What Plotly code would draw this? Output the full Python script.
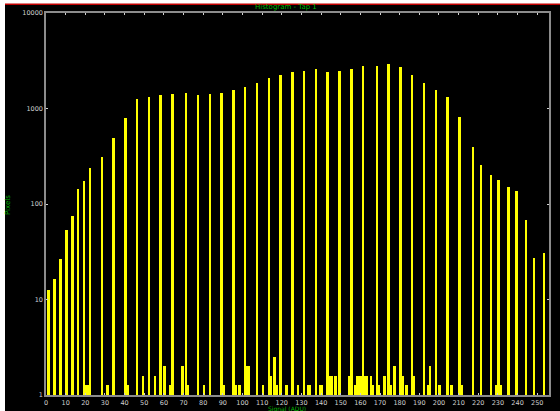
import plotly.graph_objects as go

# Histogram data (bin index 0..255, pixel counts)
tall_bins = [1, 4, 7, 10, 13, 16, 19, 22, 28, 34, 40, 46, 52, 58, 64, 71, 77, 83, 89, 95,
             101, 107, 113, 119, 125, 131, 137, 143, 149, 155, 161, 168, 174, 180, 186, 192,
             198, 204, 210, 217, 221, 226, 230, 235, 239, 244, 248, 253]
tall_counts = [12.7, 16.3, 26.8, 53.8, 74, 142, 175, 237, 313, 487, 795, 1255, 1327, 1393,
               1416, 1460, 1393, 1416, 1460, 1560, 1675, 1871, 2110, 2250, 2419, 2460, 2582,
               2419, 2479, 2582, 2775, 2795, 2912, 2729, 2250, 1871, 1560, 1318, 807, 396,
               257, 202, 177, 152, 137, 68, 27.4, 30.4]

small_bins = [20, 21, 31, 41, 49, 55, 60, 63, 69, 72, 80, 90, 96, 98, 102, 103, 110, 114, 116,
              117, 122, 128, 133, 134, 139, 140, 144, 145, 147, 154, 157, 158, 159, 160, 162,
              163, 165, 166, 169, 172, 175, 177, 181, 183, 187, 194, 195, 200, 206, 211, 229, 231]
small_counts = [1.27, 1.27, 1.27, 1.27, 1.59, 1.59, 2.0, 1.27, 2.0, 1.27, 1.27, 1.27, 1.27, 1.27,
                2.0, 2.0, 1.27, 1.59, 2.5, 1.27, 1.27, 1.27, 1.27, 1.27, 1.27, 1.27, 1.59, 1.59,
                1.59, 1.59, 1.27, 1.59, 1.59, 1.59, 1.59, 1.59, 1.59, 1.27, 1.27, 1.59, 1.27,
                2.0, 1.59, 1.27, 1.59, 1.27, 2.0, 1.27, 1.27, 1.27, 1.27, 1.27]

x_tick_vals = list(range(0, 251, 10))
x_tick_text = [str(v) for v in x_tick_vals]
y_tick_vals = [1, 10, 100, 1000, 10000]
y_tick_text = ["1", "10", "100", "1000", "10000"]

title_text = "Histogram - Tap 1"
x_title = "Signal (ADU)"
y_title = "Pixels"

bins = tall_bins + small_bins
counts = tall_counts + small_counts

GREEN = "#00b400"
TICK = "#d0d0d0"
AXIS = "#8c8c8c"
FONT = "DejaVu Sans"

fig = go.Figure()
fig.add_trace(go.Bar(
    x=[b + 0.5 for b in bins], y=counts, width=1.0,
    marker=dict(color="#ffff00", line=dict(width=0)),
    showlegend=False,
))

W, H = 560, 411
L, R, T, B = 46, 11, 13, 16
pw, ph = W - L - R, H - T - B


def px(X):
    return (X - L) / pw


def py(Y):
    return (H - B - Y) / ph


fig.update_layout(
    width=W, height=H, autosize=False,
    margin=dict(l=L, r=R, t=T, b=B, pad=0, autoexpand=False),
    paper_bgcolor="black", plot_bgcolor="black",
    bargap=0,
    font=dict(family=FONT, size=7, color=TICK),
    shapes=[
        dict(type="rect", xref="paper", yref="paper", x0=px(-5), x1=px(5), y0=py(420), y1=py(-5),
             fillcolor="white", line=dict(width=0), layer="below"),
        dict(type="rect", xref="paper", yref="paper", x0=px(-5), x1=px(570), y0=py(4), y1=py(-5),
             fillcolor="white", line=dict(width=0), layer="below"),
        dict(type="line", xref="paper", yref="paper", x0=px(5), x1=px(570), y0=py(4.3), y1=py(4.3),
             line=dict(color="#c00000", width=1.5), layer="below"),
    ],
    annotations=[
        dict(text=title_text, xref="paper", yref="paper", x=px(286), y=py(7.5),
             showarrow=False, font=dict(family=FONT, size=7, color=GREEN),
             xanchor="center", yanchor="middle"),
        dict(text=y_title, xref="paper", yref="paper", x=px(8), y=py(205),
             showarrow=False, textangle=-90, font=dict(family=FONT, size=7, color=GREEN),
             xanchor="center", yanchor="middle"),
        dict(text=x_title, xref="paper", yref="paper", x=px(287), y=py(408.5),
             showarrow=False, font=dict(family=FONT, size=6, color=GREEN),
             xanchor="center", yanchor="middle"),
    ],
)

fig.update_xaxes(
    range=[0, 256], tickvals=x_tick_vals, ticktext=x_tick_text,
    ticks="inside", ticklen=2, tickcolor=TICK, tickwidth=1,
    showline=True, linecolor=AXIS, linewidth=1.5, mirror="ticks",
    showgrid=False, zeroline=False, tickfont=dict(size=6.5, color=TICK),
    ticklabelstandoff=0, automargin=False,
)
fig.update_yaxes(
    type="log", range=[0, 4], tickvals=y_tick_vals, ticktext=y_tick_text,
    ticks="inside", ticklen=2, tickcolor=TICK, tickwidth=1,
    showline=True, linecolor=AXIS, linewidth=1.5, mirror="ticks",
    showgrid=False, zeroline=False, tickfont=dict(size=6.5, color=TICK),
    automargin=False,
)

fig.write_html(
    "out.html",
    config={"displayModeBar": False},
    post_script="document.body.style.margin='0';document.body.style.overflow='hidden';",
)
